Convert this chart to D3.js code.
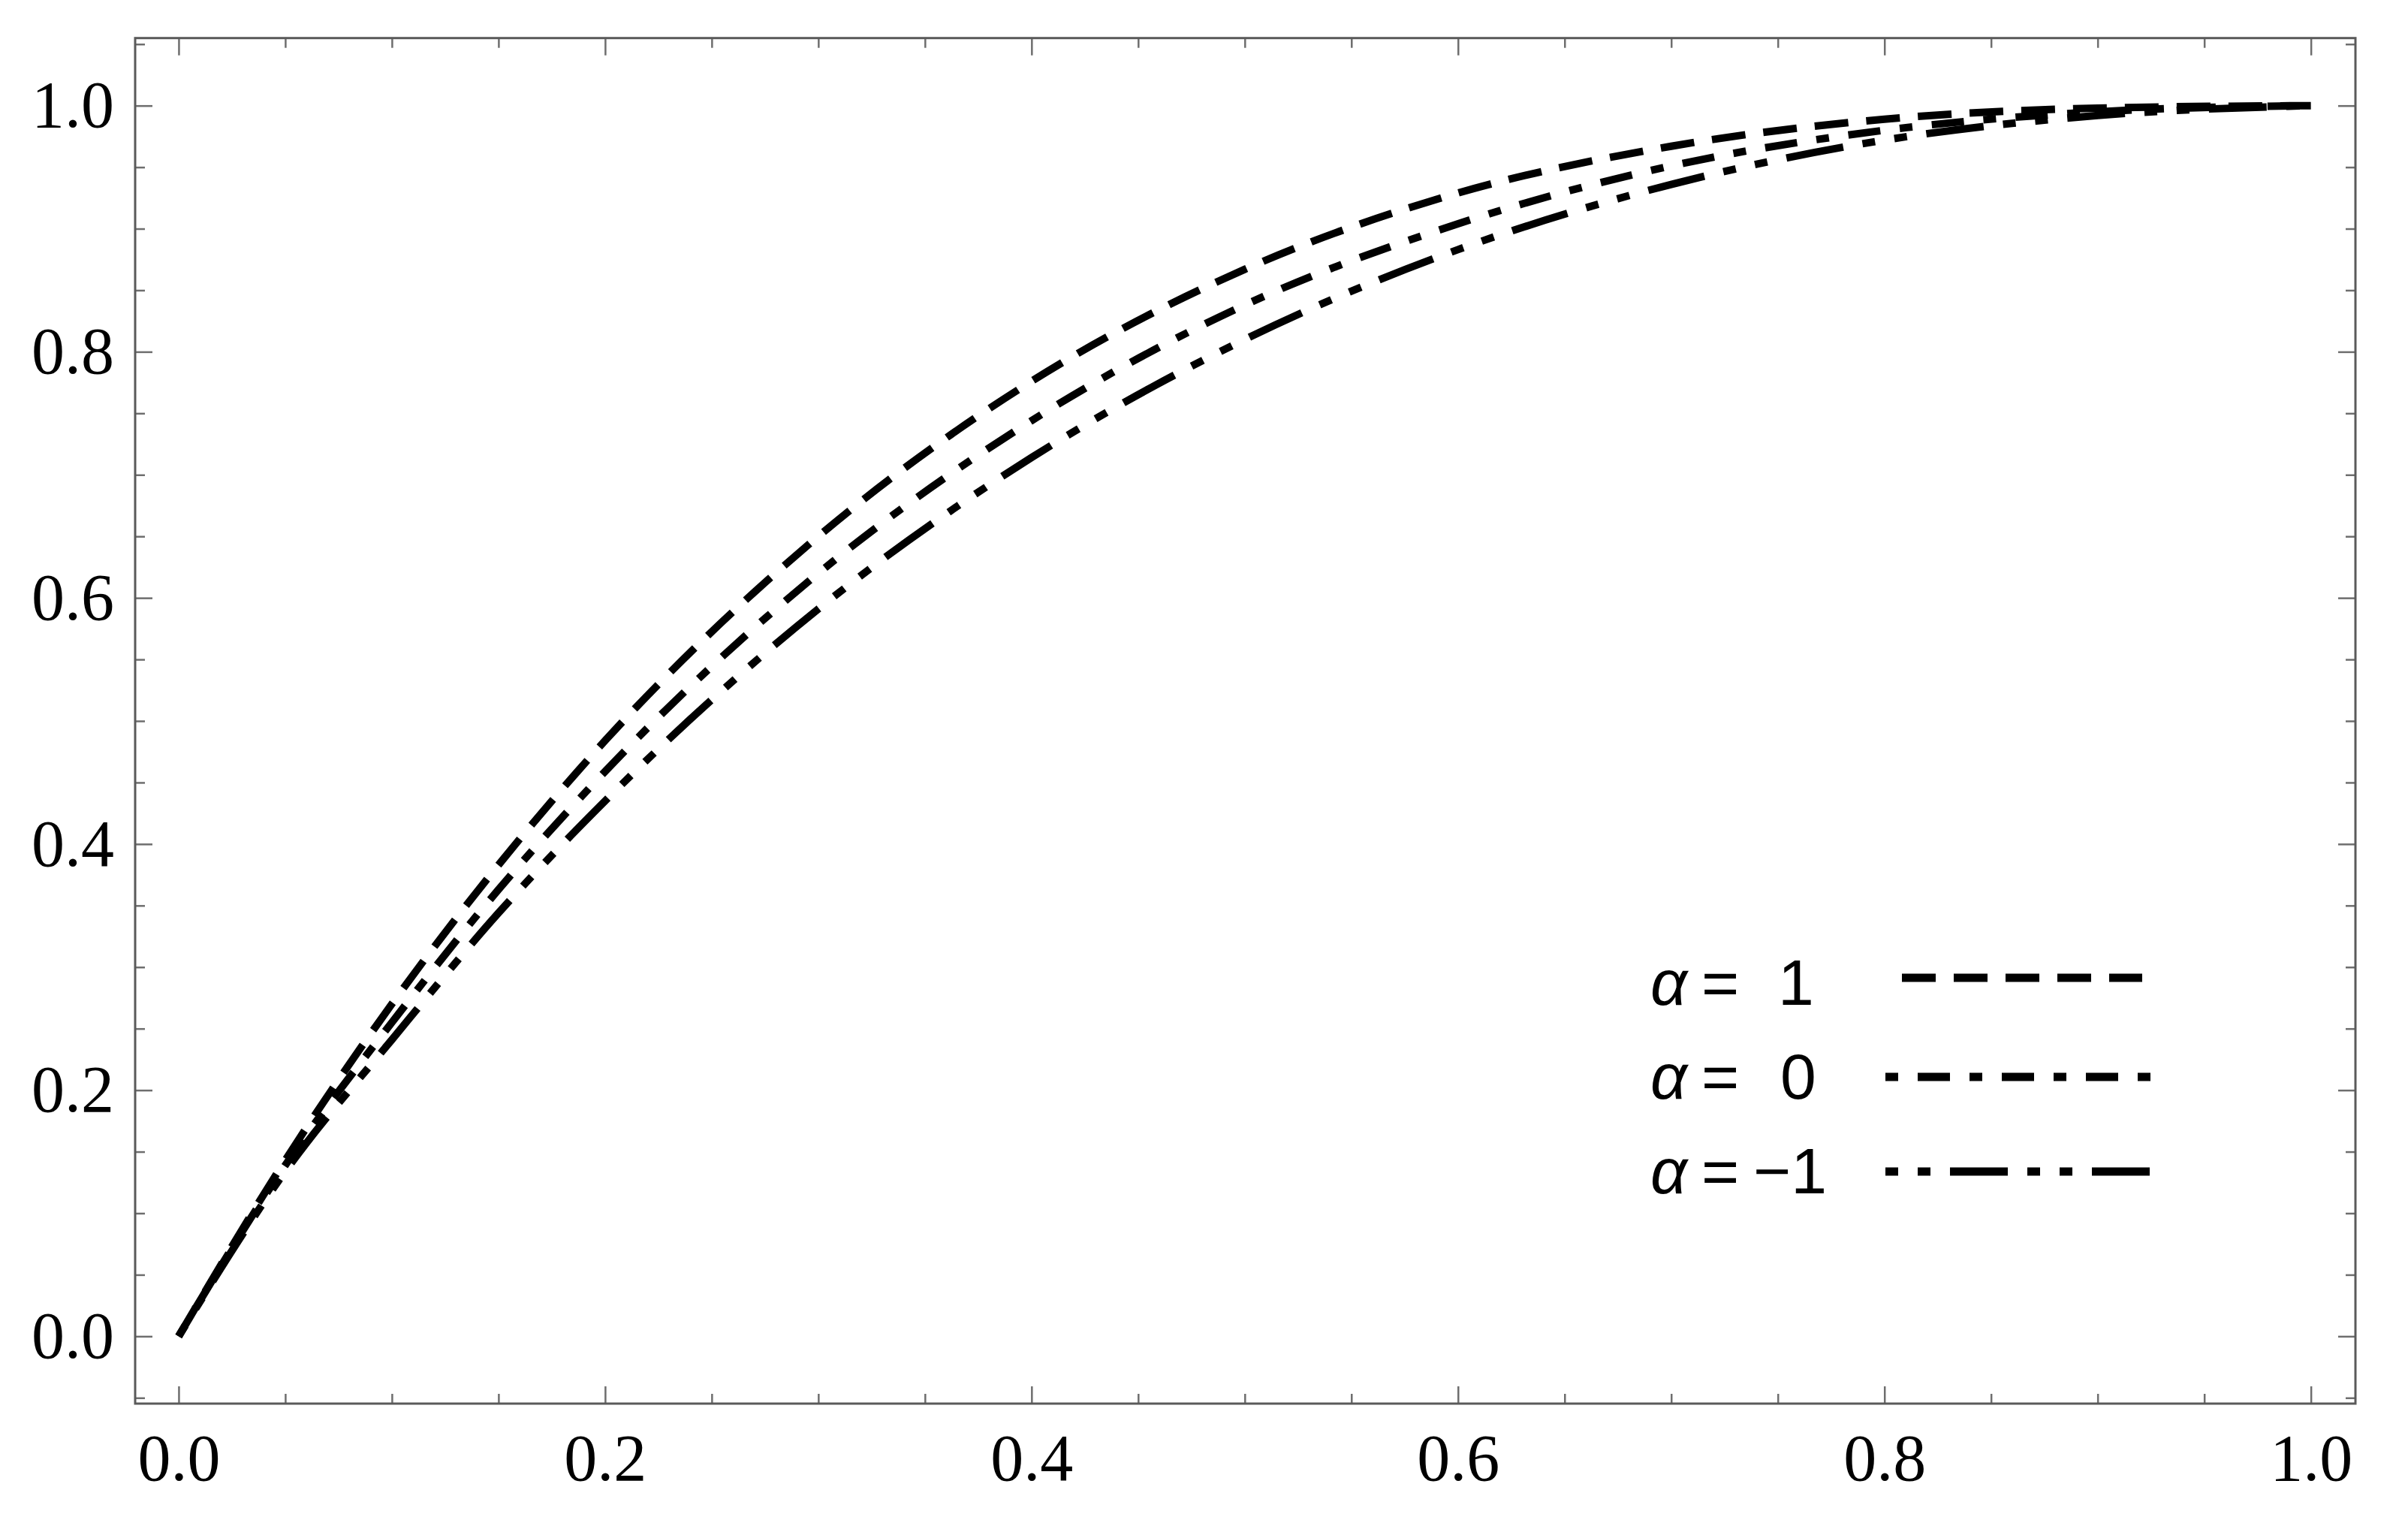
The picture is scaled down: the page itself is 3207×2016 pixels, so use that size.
<!DOCTYPE html>
<html>
<head>
<meta charset="utf-8">
<script src="https://cdn.jsdelivr.net/npm/d3@7"></script>
<style>
  body { margin: 0; background: #fff; }
  .tick text { font-family: "Liberation Serif", "Times New Roman", serif; font-size: 88px; fill: #000; }
  .tick line { stroke: #6e6e6e; stroke-width: 2.5px; }
  .legend text { font-family: "Liberation Sans", Arial, sans-serif; font-size: 86px; fill: #000; }
</style>
</head>
<body>
<div id="chart"></div>
<script>
// chart values
var xs      = [0, 0.05, 0.1, 0.15, 0.2, 0.3, 0.4, 0.5, 0.6, 0.7, 0.8, 0.9, 1.0];
var alphaP1 = [0, 0.143, 0.270, 0.383, 0.484, 0.650, 0.776, 0.867, 0.929, 0.967, 0.989, 0.998, 1.0];
var alpha0  = [0, 0.139, 0.255, 0.363, 0.459, 0.620, 0.744, 0.838, 0.904, 0.951, 0.980, 0.995, 1.0];
var alphaM1 = [0, 0.134, 0.241, 0.344, 0.435, 0.591, 0.714, 0.810, 0.883, 0.936, 0.972, 0.992, 1.0];

var seriesLabels = ["1", "0", "\u22121"];
var majorTicks = [0, 0.2, 0.4, 0.6, 0.8, 1.0];
var minorX = [0.05, 0.1, 0.15, 0.25, 0.3, 0.35, 0.45, 0.5, 0.55, 0.65, 0.7, 0.75, 0.85, 0.9, 0.95];
var minorY = [-0.05].concat(minorX, [1.05]);

// svg variables
var width = 3207,
    height = 2016;

var frame = {left: 180, right: 3137, top: 50.7, bottom: 1869};

var x = d3.scaleLinear().domain([-0.0204, 1.0209]).range([frame.left, frame.right]);
var y = d3.scaleLinear().domain([-0.0547, 1.0549]).range([frame.bottom, frame.top]);

var svg = d3.select("#chart")
    .append("svg")
    .attr("width", width)
    .attr("height", height);

/////////////////////////////
// axes - ticks point inward on all four sides
/////////////////////////////

var fmt = d3.format(".1f");

function addAxis(axis, tx, ty, cls) {
    var g = svg.append("g")
        .attr("class", cls)
        .attr("transform", "translate(" + tx + "," + ty + ")")
        .call(axis);
    g.select(".domain").remove();
    return g;
}

// bottom
addAxis(d3.axisBottom(x).tickValues(majorTicks).tickFormat(fmt)
    .tickSizeInner(-23).tickSizeOuter(0).tickPadding(40), 0, frame.bottom, "x-major");
addAxis(d3.axisBottom(x).tickValues(minorX).tickFormat("")
    .tickSizeInner(-13).tickSizeOuter(0), 0, frame.bottom, "x-minor");
// top
addAxis(d3.axisTop(x).tickValues(majorTicks).tickFormat("")
    .tickSizeInner(-23).tickSizeOuter(0), 0, frame.top, "x-top");
addAxis(d3.axisTop(x).tickValues(minorX).tickFormat("")
    .tickSizeInner(-13).tickSizeOuter(0), 0, frame.top, "x-top-minor");
// left
addAxis(d3.axisLeft(y).tickValues(majorTicks).tickFormat(fmt)
    .tickSizeInner(-23).tickSizeOuter(0).tickPadding(28), frame.left, 0, "y-major");
addAxis(d3.axisLeft(y).tickValues(minorY).tickFormat("")
    .tickSizeInner(-13).tickSizeOuter(0), frame.left, 0, "y-minor");
// right
addAxis(d3.axisRight(y).tickValues(majorTicks).tickFormat("")
    .tickSizeInner(-23).tickSizeOuter(0), frame.right, 0, "y-right");
addAxis(d3.axisRight(y).tickValues(minorY).tickFormat("")
    .tickSizeInner(-13).tickSizeOuter(0), frame.right, 0, "y-right-minor");

// frame
svg.append("rect")
    .attr("x", frame.left)
    .attr("y", frame.top)
    .attr("width", frame.right - frame.left)
    .attr("height", frame.bottom - frame.top)
    .attr("fill", "none")
    .attr("stroke", "#5a5a5a")
    .attr("stroke-width", 3);

/////////////////////////////
// curves
/////////////////////////////

var dashes = ["45,24", "17,26,43,26", "17,26,17,26,77,26"];
var series = [alphaP1, alpha0, alphaM1];

var line = d3.line()
    .x(function(d) { return x(d[0]); })
    .y(function(d) { return y(d[1]); })
    .curve(d3.curveMonotoneX);

series.forEach(function(vals, i) {
    var pts = xs.map(function(v, j) { return [v, vals[j]]; });
    svg.append("path")
        .datum(pts)
        .attr("d", line)
        .attr("fill", "none")
        .attr("stroke", "#000")
        .attr("stroke-width", 10)
        .attr("stroke-dasharray", dashes[i]);
});

/////////////////////////////
// legend
/////////////////////////////

var legend = svg.append("g").attr("class", "legend");
var rowBase = [1338, 1463, 1589];
var rowLine = [1302, 1434, 1560];
var lineX = [[2533, 2853], [2511, 2865], [2511, 2865]];
var numX = [2392, 2395, 2384];

seriesLabels.forEach(function(lab, i) {
    legend.append("text")
        .attr("x", 2198).attr("y", rowBase[i])
        .style("font-style", "italic")
        .text("\u03B1");
    legend.append("text")
        .attr("x", 2266).attr("y", rowBase[i])
        .text("=");
    legend.append("text")
        .attr("x", numX[i]).attr("y", rowBase[i])
        .attr("text-anchor", "middle")
        .text(lab);
    legend.append("line")
        .attr("x1", lineX[i][0]).attr("x2", lineX[i][1])
        .attr("y1", rowLine[i]).attr("y2", rowLine[i])
        .attr("stroke", "#000")
        .attr("stroke-width", 11)
        .attr("stroke-dasharray", dashes[i]);
});
</script>
</body>
</html>
